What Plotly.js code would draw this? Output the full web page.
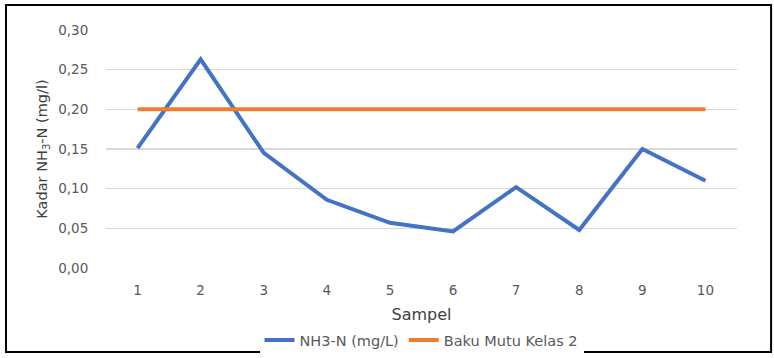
<!DOCTYPE html>
<html>
<head>
<meta charset="utf-8">
<script src="https://cdn.plot.ly/plotly-3.0.1.min.js"></script>
<style>
  html, body { margin: 0; padding: 0; background: #fff; }
  #chart { width: 774px; height: 358px; }
</style>
</head>
<body>
<div id="chart"></div>
<script>
// Sample numbers along the x axis
const samples = ['1', '2', '3', '4', '5', '6', '7', '8', '9', '10'];
// Measured NH3-N concentration (mg/L) per sample
const nh3n = [0.151, 0.263, 0.145, 0.086, 0.057, 0.046, 0.102, 0.048, 0.150, 0.110];
// Class 2 water quality standard
const bakuMutu = [0.20, 0.20, 0.20, 0.20, 0.20, 0.20, 0.20, 0.20, 0.20, 0.20];
// Y axis ticks
const yTicks = [0, 0.05, 0.10, 0.15, 0.20, 0.25, 0.30];
const yTickText = ['0,00', '0,05', '0,10', '0,15', '0,20', '0,25', '0,30'];

const font = 'Verdana, "DejaVu Sans", sans-serif';

const traces = [
  {
    x: samples, y: nh3n, type: 'scatter', mode: 'lines',
    name: 'NH3-N (mg/L)',
    line: { color: '#4472C4', width: 4 }
  },
  {
    x: samples, y: bakuMutu, type: 'scatter', mode: 'lines',
    name: 'Baku Mutu Kelas 2',
    line: { color: '#ED7D31', width: 4 }
  }
];

const layout = {
  width: 774, height: 358,
  margin: { l: 106, r: 37, t: 30, b: 90 },
  paper_bgcolor: '#fff', plot_bgcolor: '#fff',
  font: { family: font, color: '#595959', size: 13.5 },
  showlegend: true,
  legend: {
    orientation: 'h', x: 0.5, xanchor: 'center',
    yref: 'container', y: 0.05, yanchor: 'middle',
    font: { family: font, size: 14.5, color: '#595959' },
    itemwidth: 30, tracegroupgap: 0
  },
  xaxis: {
    type: 'category', range: [-0.5, 9.5], automargin: false,
    showgrid: false, zeroline: false, showline: false,
    ticks: 'outside', ticklen: 10, tickcolor: 'rgba(0,0,0,0)',
    tickfont: { family: font, size: 13.5, color: '#595959' },
    title: { text: 'Sampel', font: { family: font, size: 16, color: '#404040' }, standoff: 16 }
  },
  yaxis: {
    range: [0, 0.30], tickvals: yTicks, ticktext: yTickText, automargin: false,
    showgrid: true, gridcolor: '#D9D9D9', gridwidth: 1.3,
    zeroline: false, showline: false,
    ticks: 'outside', ticklen: 14, tickcolor: 'rgba(0,0,0,0)',
    tickfont: { family: font, size: 13.5, color: '#595959' },
    title: { text: 'Kadar NH<sub>3</sub>-N (mg/l)', font: { family: font, size: 14.5, color: '#404040' }, standoff: 7 }
  },
  shapes: [
    {
      type: 'rect', xref: 'paper', yref: 'paper',
      x0: -0.1585, x1: 1.054, y0: -0.353, y1: 1.105,
      line: { color: '#000', width: 2 }, fillcolor: 'rgba(0,0,0,0)', layer: 'above'
    }
  ]
};

Plotly.newPlot('chart', traces, layout, { displayModeBar: false, staticPlot: true });
</script>
</body>
</html>
